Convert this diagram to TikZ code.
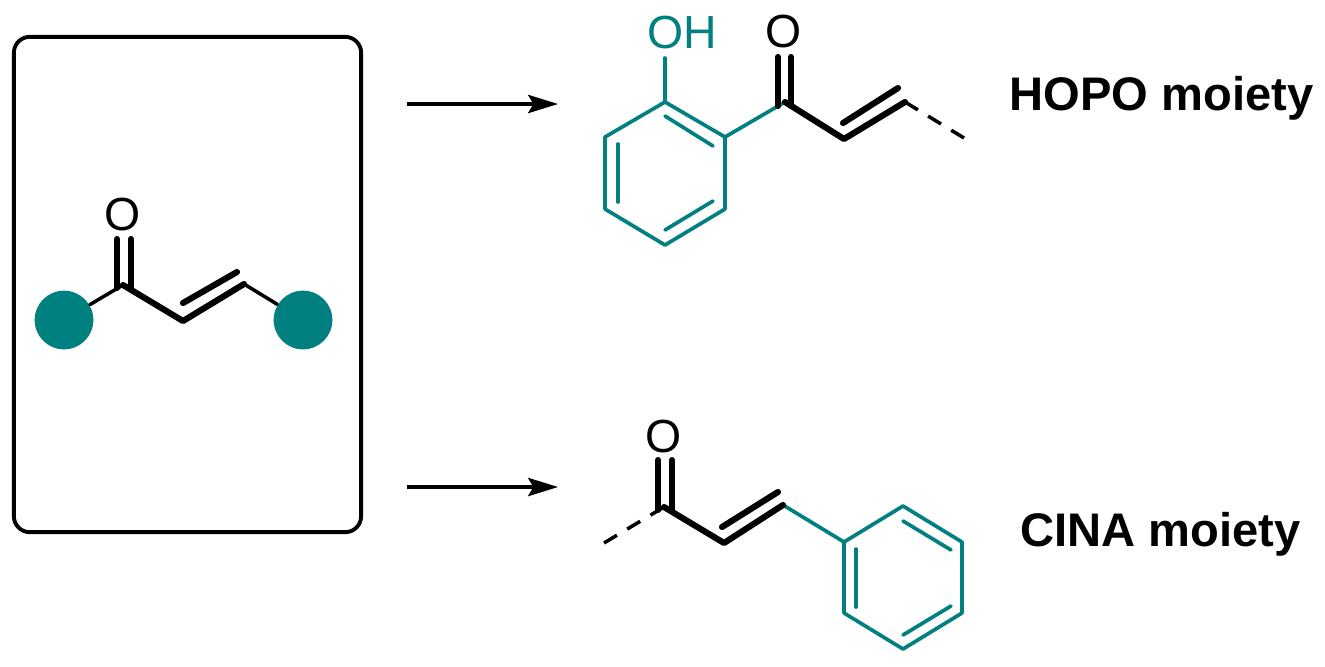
\documentclass[tikz,border=0pt]{standalone}
\usepackage{fontspec}
\usepackage{xcolor}
\setmainfont{Liberation Sans}
\usetikzlibrary{arrows.meta}
\definecolor{tealmark}{RGB}{0,128,128}
\tikzset{
	thinbond/.style={line width=1pt,line cap=round},
	boldbond/.style={line width=1.75pt,line cap=round,line join=round},
	ringbond/.style={line width=1.05pt,tealmark,line cap=round,line join=round},
	atomlabel/.style={font=\fontsize{13.2pt}{13.2pt}\selectfont,inner sep=0pt},
	moietylabel/.style={font=\fontsize{13.4pt}{13.4pt}\selectfont\bfseries,inner sep=0pt},
	endgroup/.style={circle,fill=tealmark,inner sep=0pt,minimum size=16.7pt},
	reactarrow/.style={line width=0.95pt,-{Stealth[length=8.5pt,width=5.2pt,inset=1.5pt]}}
}
\begin{document}
\begin{tikzpicture}[x=0.01cm,y=-0.01cm]
	\useasboundingbox (0,0) rectangle (1325,666);
	% Khung
	\node (box) [draw,line width=1.1pt,rounded corners=4.5pt,inner sep=0pt,minimum width=3.47cm,minimum height=4.95cm] at (187.5,284.5) {};
	% Phân tử bên trái
	\foreach \n/\x/\y in {a1/123/285,a2/183/321,a3/244/284,a4/117/239,a5/117/288,a6/131/239,a7/131/288,a8/183/303,a9/237/272}
	\coordinate (\n) at (\x,\y);
	\node (ao) [atomlabel] at (123,215) {O};
	\node (al) [endgroup] at (64,320) {};
	\node (ar) [endgroup] at (303,320) {};
	\draw [thinbond] (al) -- (a1);
	\draw [thinbond] (a3) -- (ar);
	\draw [boldbond] (a1) -- (a2) -- (a3);
	\draw [boldbond] (a8) -- (a9);
	\draw [boldbond] (a4) -- (a5);
	\draw [boldbond] (a6) -- (a7);
	% Mũi tên
	\foreach \n/\y in {1/104,2/487}{
		\coordinate (s\n) at (407,\y);
		\coordinate (e\n) at (558,\y);
		\draw [reactarrow] (s\n) -- (e\n);
	}
	% HOPO
	\foreach \n/\x/\y in {t1/665/102,t2/725/137,t3/725/209,t4/665/245,t5/605/209,t6/605/137,t7/665/116,t8/713/146,t9/618/144,t10/618/202,t11/665/230,t12/713/201,t13/665/58}
	\coordinate (\n) at (\x,\y);
	\foreach \n/\x/\y in {c1/785/102,c2/844/139,c3/905/102,c4/778/57,c5/778/106,c6/791/57,c7/791/106,c8/843/123,c9/898/88,c10/964/138}
	\coordinate (\n) at (\x,\y);
	\node (to) [atomlabel,text=tealmark,anchor=west] at (647,33) {OH};
	\node (co) [atomlabel] at (784,32) {O};
	\draw [ringbond] (t1) -- (t2) -- (t3) -- (t4) -- (t5) -- (t6) -- cycle;
	\draw [ringbond] (t7) -- (t8);
	\draw [ringbond] (t9) -- (t10);
	\draw [ringbond] (t11) -- (t12);
	\draw [ringbond] (t1) -- (t13);
	\draw [ringbond] (t2) -- (c1);
	\draw [boldbond] (c1) -- (c2) -- (c3);
	\draw [boldbond] (c8) -- (c9);
	\draw [boldbond] (c4) -- (c5);
	\draw [boldbond] (c6) -- (c7);
	\draw [thinbond,line cap=butt,dash pattern=on 4.3pt off 3.4pt] (c3) -- (c10);
	\node (hopo) [moietylabel] at (1161.5,98) {HOPO moiety};
	% CINA
	\foreach \n/\x/\y in {b1/844/542,b2/903/506,b3/962/542,b4/962/613,b5/903/649,b6/844/613,b7/856/549,b8/856/607,b9/903/521,b10/951/550,b11/903/635,b12/951/606}
	\coordinate (\n) at (\x,\y);
	\foreach \n/\x/\y in {d1/664/507,d2/724/543,d3/783/505,d4/658/460,d5/658/510,d6/672/460,d7/672/510,d8/722/527,d9/778/492,d10/604/543}
	\coordinate (\n) at (\x,\y);
	\node (do) [atomlabel] at (664,437) {O};
	\draw [ringbond] (b1) -- (b2) -- (b3) -- (b4) -- (b5) -- (b6) -- cycle;
	\draw [ringbond] (b7) -- (b8);
	\draw [ringbond] (b9) -- (b10);
	\draw [ringbond] (b11) -- (b12);
	\draw [ringbond] (d3) -- (b1);
	\draw [boldbond] (d1) -- (d2) -- (d3);
	\draw [boldbond] (d8) -- (d9);
	\draw [boldbond] (d4) -- (d5);
	\draw [boldbond] (d6) -- (d7);
	\draw [thinbond,line cap=butt,dash pattern=on 4.3pt off 3.4pt] (d10) -- (d1);
	\node (cina) [moietylabel] at (1160.5,534) {CINA moiety};
\end{tikzpicture}
\end{document}
